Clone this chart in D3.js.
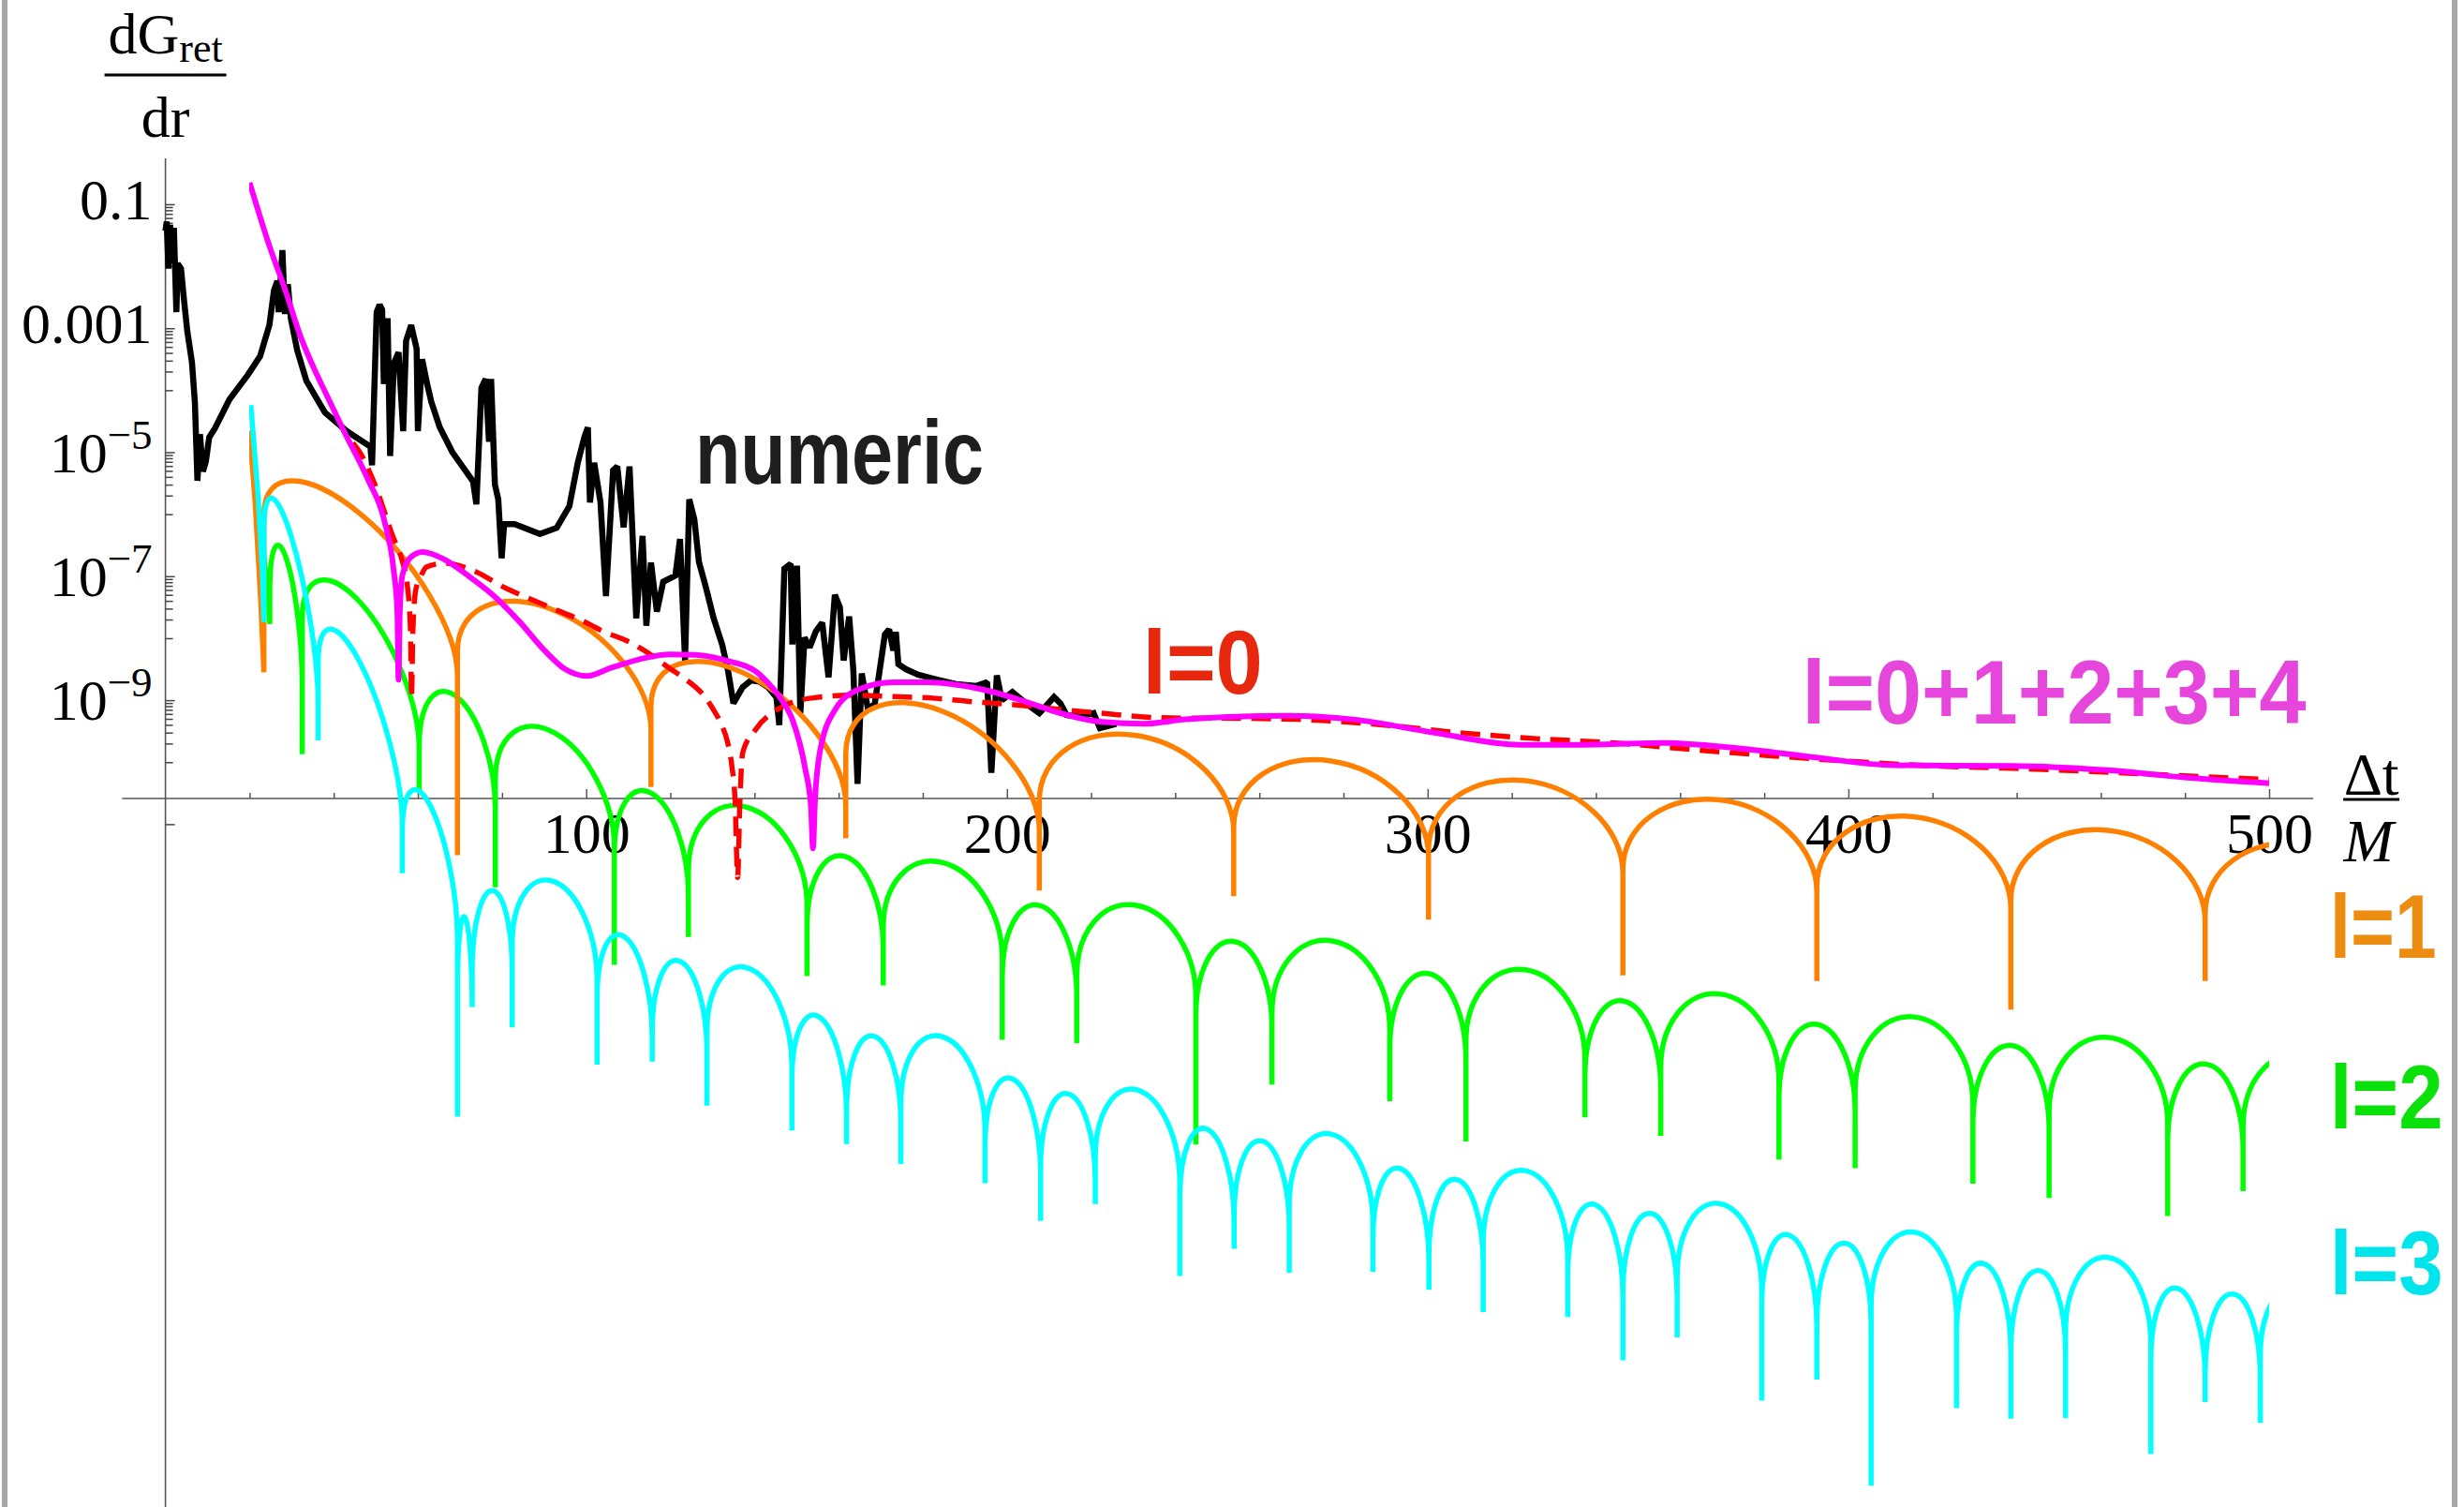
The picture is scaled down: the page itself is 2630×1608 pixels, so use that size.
<!doctype html>
<html>
<head>
<meta charset="utf-8">
<script src="https://d3js.org/d3.v7.min.js"></script>
<style>
body { margin:0; background:#fff; }
</style>
</head>
<body>
<script>
var W = 2630, H = 1608;

// all vertical values are log10(dG/dr); t = Δt/M
var numeric = [[0.0,-1.43],[0.3,-1.28],[0.7,-2.04],[1.1,-1.33],[1.5,-1.95],[2.0,-1.38],[2.6,-2.74],[2.9,-1.96],[3.7,-2.04],[4.4,-2.54],[5.2,-3.05],[6.3,-3.55],[7.0,-4.2],[7.6,-5.46],[8.2,-4.71],[8.9,-5.31],[9.6,-5.15],[10.4,-4.76],[11.8,-4.61],[15.2,-4.15],[19.6,-3.75],[22.5,-3.45],[24.7,-2.95],[25.8,-2.39],[26.6,-2.24],[26.9,-2.74],[27.3,-2.3],[27.8,-1.74],[28.4,-2.77],[29.1,-2.29],[29.8,-2.84],[31.3,-3.35],[33.5,-3.85],[37.9,-4.36],[43.1,-4.66],[48.7,-4.91],[49.1,-5.21],[50.2,-2.74],[50.9,-2.62],[51.5,-2.7],[51.9,-3.9],[52.8,-2.84],[53.4,-5.06],[54.3,-3.56],[55.4,-3.39],[56.5,-4.66],[57.2,-3.2],[58.4,-2.95],[59.7,-3.33],[60.0,-4.66],[61.0,-3.5],[62.2,-3.9],[63.2,-4.19],[65.2,-4.6],[68.2,-5.0],[73.1,-5.47],[73.9,-5.84],[75.1,-3.96],[76.1,-3.82],[76.9,-4.83],[77.4,-3.82],[78.3,-5.52],[79.1,-5.76],[79.9,-6.71],[80.5,-6.16],[83.0,-6.16],[89.0,-6.32],[93.0,-6.22],[96.0,-5.87],[98.0,-5.17],[99.6,-4.75],[100.4,-4.6],[100.9,-5.81],[101.9,-5.17],[103.4,-5.81],[104.7,-7.32],[106.4,-5.29],[107.4,-5.23],[108.9,-6.21],[110.3,-5.23],[111.9,-7.68],[113.4,-6.35],[114.3,-7.8],[115.4,-6.78],[116.8,-7.57],[118.3,-7.09],[121.2,-6.99],[122.3,-6.4],[123.5,-8.36],[124.5,-5.76],[125.7,-6.08],[126.8,-6.77],[128.3,-7.14],[130.3,-7.68],[132.3,-8.1],[133.7,-8.52],[135.0,-9.05],[137.2,-8.79],[139.2,-8.68],[141.2,-8.7],[143.2,-8.79],[145.2,-8.95],[145.9,-9.4],[147.1,-6.88],[148.6,-6.8],[149.0,-8.1],[150.1,-6.83],[150.9,-9.21],[151.9,-7.99],[153.1,-8.15],[154.6,-7.89],[156.1,-7.75],[157.6,-8.63],[159.1,-7.3],[160.3,-7.5],[161.2,-8.36],[162.5,-7.65],[163.5,-8.52],[164.5,-10.35],[165.5,-8.57],[167.0,-9.16],[168.6,-9.05],[171.0,-7.94],[172.0,-7.86],[173.0,-8.2],[173.6,-7.9],[174.2,-8.42],[176.0,-8.5],[178.9,-8.59],[182.9,-8.66],[187.9,-8.74],[192.8,-8.77],[195.3,-8.71],[196.3,-10.17],[197.6,-8.6],[198.8,-9.0],[201.3,-8.87],[204.7,-9.06],[207.7,-9.21],[209.2,-9.1],[211.2,-8.95],[212.7,-9.05],[214.2,-9.24],[217.7,-9.27],[220.6,-9.21],[222.1,-9.45],[226.0,-9.38]];

var sumL04 = [[20,-0.65],[24.8,-1.69],[28.5,-2.39],[32.2,-3.15],[36,-3.75],[37.4,-3.95],[42.5,-4.67],[48.2,-5.45],[52,-6.1],[54.2,-6.88],[55.1,-7.55],[55.4,-8.67],[55.7,-7.6],[56.3,-6.99],[58.2,-6.7],[61.1,-6.61],[66.3,-6.73],[72.1,-7.0],[78.1,-7.32],[84.1,-7.73],[90,-8.19],[95,-8.5],[100.2,-8.61],[105.9,-8.48],[113.9,-8.32],[119.8,-8.26],[126,-8.27],[133.3,-8.36],[140.6,-8.55],[143.2,-8.72],[146.5,-9.0],[149,-9.31],[152.1,-10.12],[153.4,-10.7],[153.9,-11.39],[154.4,-10.6],[155.5,-9.85],[159.1,-9.16],[165,-8.82],[173,-8.71],[180.9,-8.71],[188.9,-8.76],[196.8,-8.87],[204.7,-9.03],[212.7,-9.21],[222.6,-9.35],[232.5,-9.38],[242.5,-9.31],[252.4,-9.27],[267.2,-9.25],[282.3,-9.31],[301.2,-9.52],[322,-9.72],[335.2,-9.72],[356,-9.69],[373,-9.77],[391.8,-9.92],[410.7,-10.05],[439,-10.06],[461.6,-10.13],[480.5,-10.25],[500,-10.34]];

var l0 = [[44.5,-4.85],[45.9,-4.97],[49.6,-5.49],[54,-6.35],[56.3,-6.76],[57.4,-7.1],[58.2,-7.8],[58.5,-8.96],[58.8,-7.9],[59.5,-7.22],[60.7,-7.0],[62.1,-6.85],[66.5,-6.79],[72.1,-6.88],[81.1,-7.2],[91,-7.49],[100.9,-7.78],[103.4,-7.87],[110.8,-8.08],[113.1,-8.17],[120.8,-8.53],[123.2,-8.64],[128.8,-9.0],[130.3,-9.16],[132.2,-9.4],[133.5,-9.65],[134.6,-10.05],[135.4,-10.64],[136,-11.86],[136.5,-10.7],[137.2,-9.85],[140.2,-9.48],[145.2,-9.16],[153.1,-8.97],[163,-8.92],[173,-8.94],[182.9,-8.97],[192.8,-9.03],[202.8,-9.08],[212.7,-9.15],[222.6,-9.21],[232.5,-9.27],[242.5,-9.29],[250.3,-9.29],[269,-9.31],[288,-9.39],[306.9,-9.52],[325.8,-9.62],[344.6,-9.69],[363.5,-9.8],[382.4,-9.9],[401.2,-9.99],[420,-10.06],[439,-10.1],[457.8,-10.15],[476.7,-10.21],[500,-10.28]];

// oscillating multipoles: lead-in points, cusps [t, bottom], arcs [middle value, tilt across arc]
var l1Head = [[20,-4.65],[21.3,-5.8],[22.6,-7.34]];
var l1Cusps = [[23.4,-8.55],[69.4,-11.5],[115.4,-10.4],[161.7,-11.23],[207.7,-12.07],[253.9,-12.16],[300.2,-12.54],[346.4,-13.44],[392.5,-13.53],[438.6,-13.99],[484.8,-13.53],[531,-13.6]];
var l1Arcs = [[-6.0,-2.6],[-7.55,-1.27],[-8.6,-1.6],[-9.18,-1.24],[-9.57,-0.5],[-9.98,-0.47],[-10.3,-0.37],[-10.61,-0.36],[-10.88,-0.35],[-11.1,-0.33],[-11.31,-0.33]];

var l2Head = [[20,-4.82],[22.8,-6.3],[24.4,-7.3]];
var l2Cusps = [[24.8,-7.77],[32.5,-9.87],[60.3,-10.47],[78.4,-12.02],[106.7,-13.27],[124.3,-12.82],[152.5,-13.45],[170.6,-13.6],[198.9,-14.48],[216.6,-14.53],[244.9,-16.17],[263,-15.2],[291,-15.47],[309.1,-16.12],[337.4,-15.73],[355.4,-16.03],[383.5,-16.41],[401.6,-16.55],[429.6,-16.8],[447.7,-17.03],[475.9,-17.32],[493.8,-16.92],[521.8,-17.2]];
var l2Arcs = [[-6.7,-1.5],[-7.43,-2.1],[-8.95,-1.0],[-9.53,-1.08],[-10.5,-0.67],[-10.73,-0.57],[-11.52,-0.36],[-11.62,-0.5],[-12.31,-0.31],[-12.31,-0.34],[-12.89,-0.19],[-12.88,-0.26],[-13.41,-0.19],[-13.35,-0.29],[-13.85,-0.2],[-13.74,-0.23],[-14.23,-0.21],[-14.11,-0.2],[-14.57,-0.1],[-14.44,-0.2],[-14.87,-0.13],[-14.71,-0.25]];

var l3Head = [[20.3,-4.24],[22,-5.7],[23.1,-7.0]];
var l3Cusps = [[23.4,-7.74],[36.3,-9.65],[56.3,-11.79],[69.4,-15.72],[72.9,-13.73],[82.4,-14.28],[102.6,-14.88],[115.7,-14.83],[128.7,-15.54],[148.9,-15.94],[161.9,-16.16],[174.8,-16.48],[194.8,-16.79],[208,-17.4],[221,-17.13],[241.1,-18.29],[254,-17.85],[267.1,-18.24],[287,-18.22],[300.3,-18.51],[313.2,-18.87],[333.3,-18.95],[346.4,-19.65],[359.3,-19.28],[379.4,-20.3],[392.5,-19.96],[405.4,-21.67],[425.7,-20.42],[438.6,-20.59],[451.6,-20.58],[471.9,-21.16],[484.8,-20.32],[497.9,-20.66],[518,-20.7]];
var l3Arcs = [[-6.35,-2.8],[-8.4,-2.62],[-10.69,-1.68],[-12.5,-0.3],[-12.07,0],[-11.93,-0.56],[-12.82,-0.63],[-13.21,-0.33],[-13.33,-0.55],[-14.11,-0.57],[-14.42,-0.22],[-14.43,-0.45],[-15.11,-0.44],[-15.35,-0.21],[-15.29,-0.4],[-15.92,-0.39],[-16.11,-0.18],[-16.0,-0.3],[-16.56,-0.37],[-16.73,-0.14],[-16.59,-0.27],[-17.14,-0.34],[-17.28,-0.06],[-17.12,-0.22],[-17.63,-0.34],[-17.76,0],[-17.58,-0.19],[-18.09,-0.26],[-18.2,0],[-17.99,-0.19],[-18.49,-0.3],[-18.58,-0.06],[-18.42,-0.3]];

var xMajor = [100,200,300,400,500];
var xMinor = [20,40,60,80,120,140,160,180,220,240,260,280,320,340,360,380,420,440,460,480];
var yMajor = [-1,-3,-5,-7,-9];
var axisCrossL = -10.585;

// labels: [text, t, log10 baseline, colour, width]
var curveLabels = [
  ['numeric', 125.9, -5.5, '#1e1e1e', 308],
  ['l=0', 232.3, -8.9, '#e8280e', 128],
  ['l=0+1+2+3+4', 389, -9.37, '#e646dc', 538],
  ['l=1', 514.4, -13.15, '#ec8c10', 114],
  ['l=2', 514.4, -15.91, '#0ae00a', 121],
  ['l=3', 514.4, -18.58, '#00e4ec', 121]
];

var x = d3.scaleLinear().domain([0, 500]).range([176.6, 2422]);
var y = d3.scaleLog().domain([1e-22, Math.pow(10, -0.26)]).range([1607, 169]);
function Y(L) { return y(Math.pow(10, L)); }

var svg = d3.select('body').append('svg').attr('width', W).attr('height', H).style('display', 'block');
svg.append('rect').attr('width', W).attr('height', H).attr('fill', '#fff');
svg.append('rect').attr('x', 2).attr('y', 0).attr('width', 6).attr('height', H).attr('fill', '#a6a6ab');
svg.append('rect').attr('x', 2617).attr('y', 0).attr('width', 6).attr('height', H).attr('fill', '#a6a6ab');

var serif = "'Liberation Serif', 'Times New Roman', 'DejaVu Serif', serif";
var bold = "'Liberation Sans', Arial, 'DejaVu Sans', sans-serif";

/////////////// AXES ///////////////
var axisY = Y(axisCrossL);
svg.append('line').attr('x1', x(-10.3)).attr('x2', x(510.5)).attr('y1', axisY).attr('y2', axisY)
   .attr('stroke', '#555').attr('stroke-width', 1.6);
svg.append('line').attr('x1', x(0)).attr('x2', x(0)).attr('y1', y.range()[1]).attr('y2', H)
   .attr('stroke', '#555').attr('stroke-width', 1.6);

var gxMinor = svg.append('g').attr('transform', 'translate(0,' + axisY + ')')
   .call(d3.axisBottom(x).tickValues(xMinor).tickSizeInner(-6).tickSizeOuter(0).tickFormat(''));
var gxMajor = svg.append('g').attr('transform', 'translate(0,' + axisY + ')')
   .call(d3.axisBottom(x).tickValues(xMajor).tickSizeInner(-10).tickSizeOuter(0).tickPadding(14).tickFormat(d3.format('d')));
[gxMinor, gxMajor].forEach(function(g) {
  g.select('.domain').remove();
  g.selectAll('line').attr('stroke', '#555').attr('stroke-width', 1.5);
});
gxMajor.attr('font-family', serif).attr('font-size', 62);
gxMajor.selectAll('text').attr('fill', '#000');

var yMinorVals = [];
yMajor.forEach(function(k) {
  for (var m = 1; m <= 9; m++) yMinorVals.push(m * Math.pow(10, k - 1));
});
var gyMinor = svg.append('g').attr('transform', 'translate(' + x(0) + ',0)')
   .call(d3.axisRight(y).tickValues(yMinorVals).tickSizeInner(8).tickSizeOuter(0).tickFormat(''));
var gyMajor = svg.append('g').attr('transform', 'translate(' + x(0) + ',0)')
   .call(d3.axisRight(y).tickValues(yMajor.concat([-11]).map(function(k){ return Math.pow(10, k); }))
         .tickSizeInner(10).tickSizeOuter(0).tickFormat(''));
[gyMinor, gyMajor].forEach(function(g) {
  g.select('.domain').remove();
  g.selectAll('line').attr('stroke', '#444').attr('stroke-width', 1.5);
});

var yLab = svg.append('g').attr('font-family', serif).attr('fill', '#000').attr('text-anchor', 'end');
yMajor.forEach(function(k) {
  if (k >= -3) {
    yLab.append('text').attr('x', x(0) - 14).attr('y', Y(k) + 16).attr('font-size', 62)
        .text(Math.pow(10, k).toFixed(-k));
  } else {
    var t = yLab.append('text').attr('x', x(0) - 14).attr('y', Y(k) + 21).attr('font-size', 62);
    t.append('tspan').text('10');
    t.append('tspan').attr('dy', -25).attr('font-size', 45).text('\u2212' + (-k));
  }
});

// axis titles
var yt = svg.append('text').attr('x', x(0)).attr('y', 57).attr('text-anchor', 'middle')
   .attr('font-family', serif).attr('font-size', 62);
yt.append('tspan').text('dG');
yt.append('tspan').attr('dy', 9).attr('font-size', 44).text('ret');
svg.append('line').attr('x1', x(0) - 65).attr('x2', x(0) + 65).attr('y1', 80).attr('y2', 80)
   .attr('stroke', '#000').attr('stroke-width', 3);
svg.append('text').attr('x', x(0)).attr('y', 146).attr('text-anchor', 'middle')
   .attr('font-family', serif).attr('font-size', 62).text('dr');

var xtX = x(524.3);
svg.append('text').attr('x', xtX).attr('y', axisY - 4).attr('text-anchor', 'middle')
   .attr('font-family', serif).attr('font-size', 64).text('\u0394t');
svg.append('line').attr('x1', xtX - 30).attr('x2', xtX + 30).attr('y1', axisY + 1).attr('y2', axisY + 1)
   .attr('stroke', '#000').attr('stroke-width', 3);
svg.append('text').attr('x', xtX - 3).attr('y', axisY + 67).attr('text-anchor', 'middle')
   .attr('font-family', serif).attr('font-style', 'italic').attr('font-size', 64).text('M');

/////////////// CURVES ///////////////
svg.append('clipPath').attr('id', 'clipA').append('rect')
   .attr('x', x(19.9)).attr('y', 0).attr('width', x(500) - x(19.9)).attr('height', H);

// build a |sinusoid| on log axis: each arc is a dome between two cusps
function multipolePath(head, cusps, arcs) {
  var p = d3.path(), h = 1.3, k = 0.5523;
  p.moveTo(x(head[0][0]), Y(head[0][1]));
  head.slice(1).forEach(function(d) { p.lineTo(x(d[0]), Y(d[1])); });
  p.lineTo(x(cusps[0][0]), Y(cusps[0][1]));
  arcs.forEach(function(a, i) {
    var t0 = cusps[i][0], t1 = cusps[i + 1][0];
    var P = function(u, v) { return [x(t0 + u * (t1 - t0)), Y(a[0] + a[1] * (u - 0.5) + v)]; };
    var f0 = P(0, -h), c1 = P(0, -h + k * h), c2 = P(0.5 - k * 0.5, 0), m = P(0.5, 0),
        c3 = P(0.5 + k * 0.5, 0), c4 = P(1, -h + k * h), f1 = P(1, -h);
    p.lineTo(f0[0], f0[1]);
    p.bezierCurveTo(c1[0], c1[1], c2[0], c2[1], m[0], m[1]);
    p.bezierCurveTo(c3[0], c3[1], c4[0], c4[1], f1[0], f1[1]);
    p.lineTo(x(t1), Y(cusps[i + 1][1]));
  });
  return p.toString();
}

var lineLin = d3.line().x(function(d){ return x(d[0]); }).y(function(d){ return Y(d[1]); });
var lineSmooth = d3.line().curve(d3.curveMonotoneX).x(function(d){ return x(d[0]); }).y(function(d){ return Y(d[1]); });

svg.append('path').attr('d', lineLin(numeric)).attr('fill', 'none').attr('stroke', '#000')
   .attr('stroke-width', 6.5).attr('stroke-linejoin', 'miter').attr('stroke-miterlimit', 1.5);

var gA = svg.append('g').attr('clip-path', 'url(#clipA)').attr('fill', 'none');
gA.append('path').attr('d', multipolePath(l2Head, l2Cusps, l2Arcs)).attr('stroke', '#00ff00').attr('stroke-width', 5.5);
gA.append('path').attr('d', multipolePath(l1Head, l1Cusps, l1Arcs)).attr('stroke', '#ff8000').attr('stroke-width', 5.5);
gA.append('path').attr('d', multipolePath(l3Head, l3Cusps, l3Arcs)).attr('stroke', '#00ffff').attr('stroke-width', 5.5);
gA.append('path').attr('d', lineSmooth(l0)).attr('stroke', '#ff0000').attr('stroke-width', 5.5)
   .attr('stroke-dasharray', '21,11');
gA.append('path').attr('d', lineSmooth(sumL04)).attr('stroke', '#ff00ff').attr('stroke-width', 6);

/////////////// LABELS ///////////////
// bold sans squeezed horizontally to the condensed width of the original
curveLabels.forEach(function(d) {
  var g = svg.append('g').attr('transform', 'translate(' + x(d[1]) + ',' + Y(d[2]) + ')');
  var t = g.append('text').attr('font-family', bold).attr('font-weight', 700)
     .attr('font-size', 97).attr('fill', d[3]).text(d[0]);
  var w = t.node().getComputedTextLength();
  t.attr('transform', 'scale(' + (d[4] / w) + ',1)');
});
</script>
</body>
</html>
